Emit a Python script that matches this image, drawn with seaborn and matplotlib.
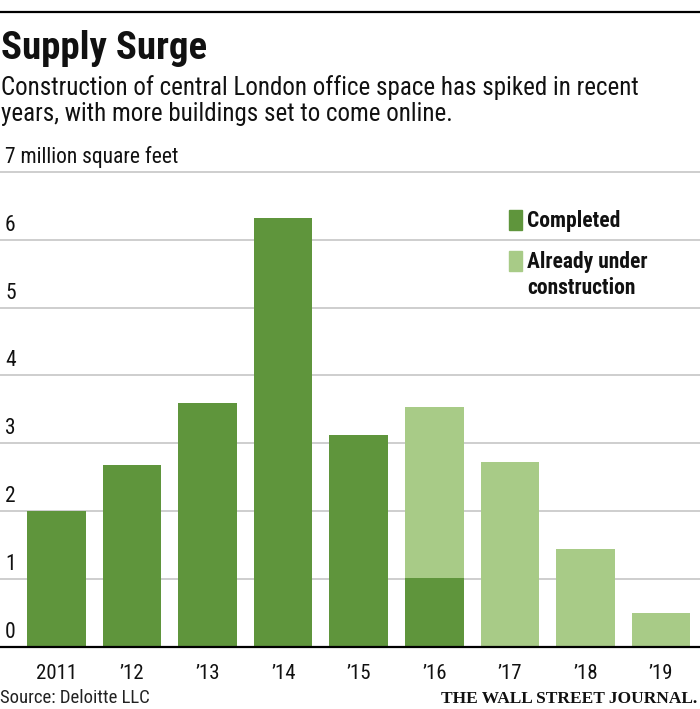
import matplotlib
matplotlib.use("Agg")
import matplotlib.pyplot as plt
from matplotlib import font_manager, transforms
from matplotlib.patches import Rectangle
from matplotlib.lines import Line2D
import pandas as pd
import seaborn as sns

# data (million sq ft)
years = ["2011", "\u201912", "\u201913", "\u201914", "\u201915",
         "\u201916", "\u201917", "\u201918", "\u201919"]
completed = [2.0, 2.68, 3.59, 6.32, 3.12, 1.02, 0, 0, 0]
under_construction = [0, 0, 0, 0, 0, 2.51, 2.72, 1.44, 0.50]
y_ticks = [0, 1, 2, 3, 4, 5, 6, 7]
y_labels = ["0", "1", "2", "3", "4", "5", "6", "7 million square feet"]

DARK = "#5f953c"
LIGHT = "#a8cb87"


def pick_font(names):
    for n in names:
        try:
            font_manager.findfont(font_manager.FontProperties(family=n),
                                  fallback_to_default=False)
            return n
        except ValueError:
            pass
    return "DejaVu Sans"


sans = pick_font(["Roboto Condensed", "Liberation Sans Narrow",
                  "Open Sans Condensed", "Roboto", "Liberation Sans"])
serif = pick_font(["Liberation Serif", "DejaVu Serif"])

sns.set_style("white")
plt.rcParams["font.family"] = [sans, "DejaVu Sans"]

df = pd.DataFrame({"year": years, "completed": completed,
                   "under": under_construction})
df["total"] = df["completed"] + df["under"]

fig = plt.figure(figsize=(7, 7.09), dpi=100)
ymax = 7.05
ax = fig.add_axes([0, 0.0874, 1, 0.09577 * ymax])

# light bars = total, dark bars (completed) drawn on top
sns.barplot(data=df, x="year", y="total", color=LIGHT, saturation=1,
            width=0.775, ax=ax, zorder=2, linewidth=0, edgecolor="none")
sns.barplot(data=df, x="year", y="completed", color=DARK, saturation=1,
            width=0.775, ax=ax, zorder=3, linewidth=0, edgecolor="none")

ax.set_xlim(-0.748, 8.516)
ax.set_ylim(0, ymax)
ax.set_yticks(y_ticks)
ax.set_yticklabels([])
ax.yaxis.grid(True, color="#c6c6c6", lw=1.2)
ax.set_axisbelow(True)
for s in ["left", "right", "top"]:
    ax.spines[s].set_visible(False)
ax.spines["bottom"].set_color("black")
ax.spines["bottom"].set_linewidth(1.6)
ax.spines["bottom"].set_zorder(5)
ax.tick_params(axis="both", length=0)
ax.tick_params(axis="x", pad=12, labelsize=15, labelcolor="#111111")
ax.set_xlabel("")
ax.set_ylabel("")

lab_tr = transforms.offset_copy(ax.get_yaxis_transform(), fig=fig, x=0, y=4, units="dots")
for v, lab in zip(y_ticks, y_labels):
    ax.text(5 / 700, v, lab, transform=lab_tr, fontsize=15.5, color="#111111",
            ha="left", va="bottom")

# header
fig.add_artist(Line2D([0, 1], [1 - 12 / 709, 1 - 12 / 709], color="black", lw=1.6,
                      transform=fig.transFigure))
fig.text(0.002, 1 - 59 / 709, "Supply Surge", fontsize=28, fontweight="bold",
         color="#111111", va="baseline")
fig.text(0.002, 1 - 95 / 709,
         "Construction of central London office space has spiked in recent",
         fontsize=18, color="#111111", va="baseline")
fig.text(0.002, 1 - 121 / 709, "years, with more buildings set to come online.",
         fontsize=18, color="#111111", va="baseline")

# legend
fig.add_artist(Rectangle((509 / 700, 1 - 230 / 709), 13 / 700, 20 / 709,
                         color=DARK, transform=fig.transFigure))
fig.add_artist(Rectangle((509 / 700, 1 - 271 / 709), 13 / 700, 20 / 709,
                         color=LIGHT, transform=fig.transFigure))
fig.text(527 / 700, 1 - 227 / 709, "Completed", fontsize=15.5, fontweight="semibold",
         color="#111111", va="baseline")
fig.text(527 / 700, 1 - 268 / 709, "Already under", fontsize=15.5, fontweight="semibold",
         color="#111111", va="baseline")
fig.text(527 / 700, 1 - 294 / 709, "construction", fontsize=15.5, fontweight="semibold",
         color="#111111", va="baseline")

# footer
fig.text(0.0, 1 - 703 / 709, "Source: Deloitte LLC", fontsize=13.5, color="#222222",
         va="baseline")
fig.text(697 / 700, 1 - 703 / 709, "THE WALL STREET JOURNAL.", fontsize=12.5,
         fontweight="bold", family=[serif, "DejaVu Serif"], color="#111111",
         ha="right", va="baseline")

fig.savefig("out.png", dpi=100, facecolor="white")
